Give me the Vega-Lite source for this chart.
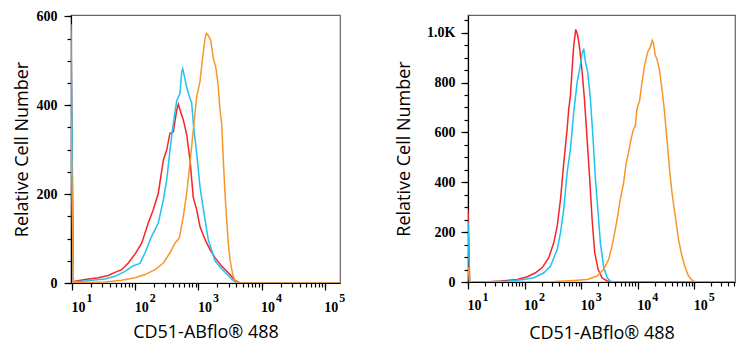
{
  "$schema": "https://vega.github.io/schema/vega-lite/v6.json",
  "padding": {"left": 12, "top": 8, "right": 5, "bottom": 5},
  "background": "white",
  "spacing": 49,
  "config": {
    "view": {"stroke": "#666666", "strokeWidth": 1.2},
    "axis": {
      "grid": false,
      "domainColor": "#000000",
      "domainWidth": 1.2,
      "tickColor": "#000000",
      "tickWidth": 1.2,
      "labelColor": "#000000",
      "labelFont": "Liberation Serif",
      "labelFontSize": 14,
      "labelFontWeight": "bold",
      "titleFont": "Open Sans",
      "titleFontSize": 18,
      "titleFontWeight": "normal",
      "titleColor": "#000000",
      "labelOverlap": false
    }
  },
  "datasets": {
    "left": [
      {"s":"red","v":9.64,"n":568},{"s":"red","v":10.5,"n":2},{"s":"red","v":11.2,"n":4},{"s":"red","v":16.1,"n":8},{"s":"red","v":26.1,"n":12},{"s":"red","v":37.5,"n":17},{"s":"red","v":47.9,"n":24},{"s":"red","v":61.1,"n":30},{"s":"red","v":77.8,"n":45},{"s":"red","v":99.3,"n":65},{"s":"red","v":127,"n":90},{"s":"red","v":161,"n":135},{"s":"red","v":193,"n":165},{"s":"red","v":232,"n":202},{"s":"red","v":279,"n":277},{"s":"red","v":315,"n":299},{"s":"red","v":355,"n":337},{"s":"red","v":401,"n":340},{"s":"red","v":454,"n":389},{"s":"red","v":481,"n":402},{"s":"red","v":512,"n":389},{"s":"red","v":577,"n":367},{"s":"red","v":653,"n":334},{"s":"red","v":736,"n":277},{"s":"red","v":830,"n":192},{"s":"red","v":939,"n":165},{"s":"red","v":1059,"n":127},{"s":"red","v":1271,"n":98},{"s":"red","v":1527,"n":75},{"s":"red","v":1832,"n":57},{"s":"red","v":2337,"n":38},{"s":"red","v":2970,"n":23},{"s":"red","v":3796,"n":6},{"s":"red","v":4550,"n":0},{"s":"red","v":174000,"n":0},
      {"s":"cyan","v":9.64,"n":582},{"s":"cyan","v":10.5,"n":1},{"s":"cyan","v":11.2,"n":2},{"s":"cyan","v":20.5,"n":6},{"s":"cyan","v":33.3,"n":9},{"s":"cyan","v":47.9,"n":15},{"s":"cyan","v":69,"n":26},{"s":"cyan","v":93.3,"n":39},{"s":"cyan","v":119,"n":44},{"s":"cyan","v":143,"n":68},{"s":"cyan","v":182,"n":105},{"s":"cyan","v":232,"n":135},{"s":"cyan","v":279,"n":187},{"s":"cyan","v":315,"n":232},{"s":"cyan","v":355,"n":299},{"s":"cyan","v":401,"n":359},{"s":"cyan","v":454,"n":410},{"s":"cyan","v":512,"n":427},{"s":"cyan","v":544,"n":475},{"s":"cyan","v":565,"n":482},{"s":"cyan","v":653,"n":441},{"s":"cyan","v":736,"n":415},{"s":"cyan","v":783,"n":405},{"s":"cyan","v":830,"n":359},{"s":"cyan","v":939,"n":292},{"s":"cyan","v":1059,"n":217},{"s":"cyan","v":1225,"n":157},{"s":"cyan","v":1435,"n":97},{"s":"cyan","v":1832,"n":50},{"s":"cyan","v":2337,"n":32},{"s":"cyan","v":2801,"n":21},{"s":"cyan","v":3400,"n":8},{"s":"cyan","v":4000,"n":0},{"s":"cyan","v":174000,"n":0},
      {"s":"orange","v":9.64,"n":372},{"s":"orange","v":10.5,"n":1},{"s":"orange","v":16.1,"n":1},{"s":"orange","v":33.3,"n":2},{"s":"orange","v":61.1,"n":6},{"s":"orange","v":99.3,"n":12},{"s":"orange","v":143,"n":19},{"s":"orange","v":206,"n":30},{"s":"orange","v":279,"n":45},{"s":"orange","v":355,"n":68},{"s":"orange","v":427,"n":90},{"s":"orange","v":499,"n":101},{"s":"orange","v":577,"n":150},{"s":"orange","v":653,"n":202},{"s":"orange","v":736,"n":270},{"s":"orange","v":830,"n":344},{"s":"orange","v":939,"n":419},{"s":"orange","v":1059,"n":453},{"s":"orange","v":1153,"n":501},{"s":"orange","v":1271,"n":550},{"s":"orange","v":1340,"n":562},{"s":"orange","v":1435,"n":557},{"s":"orange","v":1566,"n":546},{"s":"orange","v":1722,"n":505},{"s":"orange","v":1898,"n":483},{"s":"orange","v":2065,"n":441},{"s":"orange","v":2197,"n":389},{"s":"orange","v":2337,"n":359},{"s":"orange","v":2478,"n":277},{"s":"orange","v":2636,"n":202},{"s":"orange","v":2801,"n":142},{"s":"orange","v":2970,"n":90},{"s":"orange","v":3162,"n":53},{"s":"orange","v":3490,"n":19},{"s":"orange","v":3796,"n":4},{"s":"orange","v":4278,"n":0},{"s":"orange","v":174000,"n":0}
    ],
    "right": [
      {"s":"red","v":10,"n":290},{"s":"red","v":10.7,"n":0},{"s":"red","v":20,"n":0},{"s":"red","v":37.8,"n":4},{"s":"red","v":74.3,"n":10},{"s":"red","v":112,"n":21},{"s":"red","v":156,"n":37},{"s":"red","v":205,"n":58},{"s":"red","v":268,"n":98},{"s":"red","v":329,"n":158},{"s":"red","v":378,"n":225},{"s":"red","v":432,"n":332},{"s":"red","v":494,"n":480},{"s":"red","v":566,"n":614},{"s":"red","v":604,"n":694},{"s":"red","v":647,"n":748},{"s":"red","v":693,"n":855},{"s":"red","v":740,"n":949},{"s":"red","v":803,"n":1013},{"s":"red","v":871,"n":989},{"s":"red","v":944,"n":936},{"s":"red","v":1042,"n":842},{"s":"red","v":1144,"n":734},{"s":"red","v":1276,"n":573},{"s":"red","v":1418,"n":413},{"s":"red","v":1563,"n":252},{"s":"red","v":1738,"n":118},{"s":"red","v":1995,"n":51},{"s":"red","v":2344,"n":17},{"s":"red","v":2877,"n":4},{"s":"red","v":3500,"n":0},{"s":"red","v":525000,"n":0},
      {"s":"cyan","v":10,"n":240},{"s":"cyan","v":10.7,"n":0},{"s":"cyan","v":20,"n":0},{"s":"cyan","v":49.5,"n":3},{"s":"cyan","v":97.2,"n":10},{"s":"cyan","v":146,"n":17},{"s":"cyan","v":219,"n":37},{"s":"cyan","v":288,"n":64},{"s":"cyan","v":378,"n":131},{"s":"cyan","v":432,"n":198},{"s":"cyan","v":494,"n":293},{"s":"cyan","v":566,"n":440},{"s":"cyan","v":647,"n":533},{"s":"cyan","v":740,"n":681},{"s":"cyan","v":850,"n":801},{"s":"cyan","v":944,"n":855},{"s":"cyan","v":1042,"n":915},{"s":"cyan","v":1112,"n":936},{"s":"cyan","v":1191,"n":882},{"s":"cyan","v":1307,"n":842},{"s":"cyan","v":1459,"n":734},{"s":"cyan","v":1628,"n":573},{"s":"cyan","v":1788,"n":413},{"s":"cyan","v":1995,"n":279},{"s":"cyan","v":2188,"n":158},{"s":"cyan","v":2504,"n":60},{"s":"cyan","v":2877,"n":18},{"s":"cyan","v":3288,"n":3},{"s":"cyan","v":4000,"n":0},{"s":"cyan","v":525000,"n":0},
      {"s":"orange","v":10,"n":60},{"s":"orange","v":10.7,"n":0},{"s":"orange","v":300,"n":0},{"s":"orange","v":352,"n":2},{"s":"orange","v":740,"n":6},{"s":"orange","v":1276,"n":10},{"s":"orange","v":1915,"n":24},{"s":"orange","v":2504,"n":51},{"s":"orange","v":3070,"n":91},{"s":"orange","v":3523,"n":145},{"s":"orange","v":4027,"n":212},{"s":"orange","v":4424,"n":265},{"s":"orange","v":4935,"n":332},{"s":"orange","v":5641,"n":399},{"s":"orange","v":6289,"n":480},{"s":"orange","v":6913,"n":520},{"s":"orange","v":7622,"n":573},{"s":"orange","v":8472,"n":614},{"s":"orange","v":9076,"n":627},{"s":"orange","v":9726,"n":694},{"s":"orange","v":10814,"n":728},{"s":"orange","v":11918,"n":801},{"s":"orange","v":13246,"n":869},{"s":"orange","v":14962,"n":922},{"s":"orange","v":16690,"n":942},{"s":"orange","v":18110,"n":969},{"s":"orange","v":19066,"n":956},{"s":"orange","v":20430,"n":909},{"s":"orange","v":21880,"n":895},{"s":"orange","v":24330,"n":849},{"s":"orange","v":26840,"n":775},{"s":"orange","v":29460,"n":694},{"s":"orange","v":32860,"n":573},{"s":"orange","v":36540,"n":453},{"s":"orange","v":40290,"n":359},{"s":"orange","v":46050,"n":265},{"s":"orange","v":52630,"n":171},{"s":"orange","v":60410,"n":105},{"s":"orange","v":69040,"n":58},{"s":"orange","v":79020,"n":24},{"s":"orange","v":90730,"n":8},{"s":"orange","v":103800,"n":0},{"s":"orange","v":525000,"n":0}
    ]
  },
  "hconcat": [
    {
      "width": 269,
      "height": 268,
      "data": {"name": "left"},
      "resolve": {"axis": {"x": "independent", "y": "independent"}},
      "layer": [
        {
          "mark": {"type": "line", "strokeWidth": 1.5, "clip": true},
          "encoding": {
            "x": {
              "field": "v", "type": "quantitative",
              "scale": {"type": "log", "domain": [9.64, 174000], "nice": false},
              "axis": {
                "orient": "bottom",
                "title": "CD51-ABflo® 488",
                "values": [10,100,1000,10000,100000],
                "labelExpr": "'10'",
                "tickSize": 7,
                "labelPadding": 10,
                "labelAlign": "center",
                "labelOffset": 6,
                "titlePadding": 9
              }
            },
            "y": {
              "field": "n", "type": "quantitative",
              "scale": {"domain": [0, 603], "nice": false},
              "axis": {
                "orient": "left",
                "title": "Relative Cell Number",
                "values": [0,200,400,600],
                "tickSize": 7,
                "labelPadding": 7,
                "titlePadding": 5
              }
            },
            "color": {
              "field": "s", "type": "nominal",
              "scale": {"domain": ["red","cyan","orange"], "range": ["#f5252b","#1ec3f2","#f8962c"]},
              "legend": null
            }
          }
        },
        {
          "mark": {"type": "line", "strokeOpacity": 0, "clip": true},
          "encoding": {
            "x": {
              "field": "v", "type": "quantitative",
              "axis": {
                "orient": "bottom",
                "title": null,
                "domain": false,
                "values": [10,20,30,40,50,60,70,80,90,100,200,300,400,500,600,700,800,900,1000,2000,3000,4000,5000,6000,7000,8000,9000,10000,20000,30000,40000,50000,60000,70000,80000,90000,100000],
                "labelExpr": "datum.value==10?'1':datum.value==100?'2':datum.value==1000?'3':datum.value==10000?'4':datum.value==100000?'5':''",
                "tickSize": 4,
                "labelFontSize": 12,
                "labelPadding": 5,
                "labelAlign": "left",
                "labelOffset": 14
              }
            },
            "y": {
              "field": "n", "type": "quantitative",
              "axis": {
                "orient": "left",
                "title": null,
                "domain": false,
                "labels": false,
                "values": [0,50,100,150,200,250,300,350,400,450,500,550,600],
                "tickSize": 4
              }
            },
            "detail": {"field": "s"}
          }
        }
      ]
    },
    {
      "width": 267,
      "height": 267,
      "data": {"name": "right"},
      "resolve": {"axis": {"x": "independent", "y": "independent"}},
      "layer": [
        {
          "mark": {"type": "line", "strokeWidth": 1.5, "clip": true},
          "encoding": {
            "x": {
              "field": "v", "type": "quantitative",
              "scale": {"type": "log", "domain": [10, 525000], "nice": false},
              "axis": {
                "orient": "bottom",
                "title": "CD51-ABflo® 488",
                "values": [10,100,1000,10000,100000],
                "labelExpr": "'10'",
                "tickSize": 7,
                "labelPadding": 9,
                "labelAlign": "center",
                "labelOffset": 6,
                "titlePadding": 12
              }
            },
            "y": {
              "field": "n", "type": "quantitative",
              "scale": {"domain": [0, 1071], "nice": false},
              "axis": {
                "orient": "left",
                "title": "Relative Cell Number",
                "values": [0,200,400,600,800,1000],
                "labelExpr": "datum.value === 1000 ? '1.0K' : datum.value + ''",
                "tickSize": 7,
                "labelPadding": 6,
                "titlePadding": 13
              }
            },
            "color": {
              "field": "s", "type": "nominal",
              "scale": {"domain": ["red","cyan","orange"], "range": ["#f5252b","#1ec3f2","#f8962c"]},
              "legend": null
            }
          }
        },
        {
          "mark": {"type": "line", "strokeOpacity": 0, "clip": true},
          "encoding": {
            "x": {
              "field": "v", "type": "quantitative",
              "axis": {
                "orient": "bottom",
                "title": null,
                "domain": false,
                "values": [10,20,30,40,50,60,70,80,90,100,200,300,400,500,600,700,800,900,1000,2000,3000,4000,5000,6000,7000,8000,9000,10000,20000,30000,40000,50000,60000,70000,80000,90000,100000,200000,300000,400000,500000],
                "labelExpr": "datum.value==10?'1':datum.value==100?'2':datum.value==1000?'3':datum.value==10000?'4':datum.value==100000?'5':''",
                "tickSize": 4,
                "labelFontSize": 12,
                "labelPadding": 5,
                "labelAlign": "left",
                "labelOffset": 14
              }
            },
            "y": {
              "field": "n", "type": "quantitative",
              "axis": {
                "orient": "left",
                "title": null,
                "domain": false,
                "labels": false,
                "values": [0,50,100,150,200,250,300,350,400,450,500,550,600,650,700,750,800,850,900,950,1000,1050],
                "tickSize": 4
              }
            },
            "detail": {"field": "s"}
          }
        }
      ]
    }
  ]
}
